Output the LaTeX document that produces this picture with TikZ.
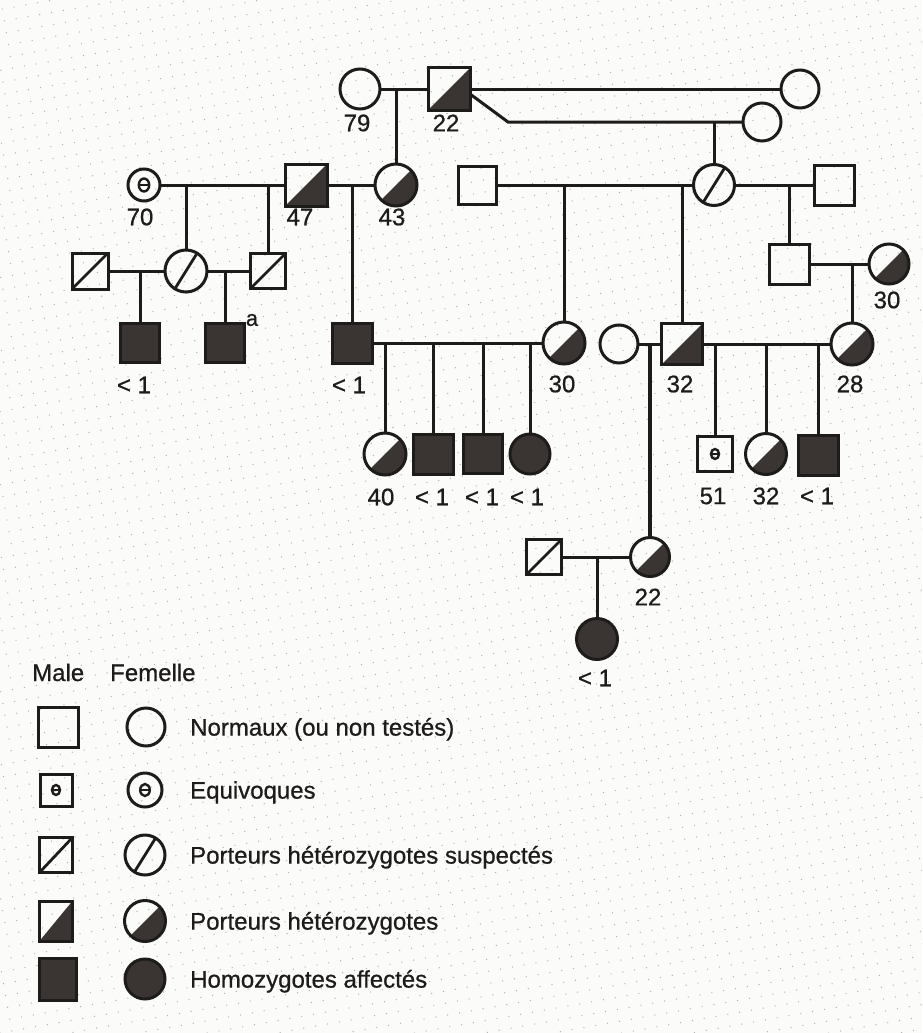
\documentclass[tikz,border=0pt]{standalone}
\usepackage{fontspec}
\setmainfont{Liberation Sans}[FakeBold=0.7]
\usetikzlibrary{patterns.meta}
\definecolor{ink}{HTML}{1E1C1B}
\definecolor{fillc}{HTML}{3A3533}
\definecolor{paper}{HTML}{FBFBFA}
\begin{document}
\begin{tikzpicture}[x=1pt,y=-1pt,
  base/.style={draw=ink, line width=3pt, inner sep=0pt, outer sep=0pt},
  male/.style={base, rectangle, minimum size=#1},
  male/.default=40pt,
  fem/.style={base, circle, minimum size=#1},
  fem/.default=40pt,
  aff/.style={fill=fillc},
  car/.style={path picture={\fill[fillc] (path picture bounding box.south west) -- (path picture bounding box.north east) -- (path picture bounding box.south east) -- cycle;}},
  msus/.style={path picture={\draw[ink,line width=2.8pt] (path picture bounding box.south west) -- (path picture bounding box.north east);}},
  fsus/.style={path picture={\draw[ink,line width=2.8pt] ([shift={(238:30pt)}]path picture bounding box.center) -- ([shift={(58:30pt)}]path picture bounding box.center);}},
  equ/.style={path picture={\draw[ink,line width=2.4pt] (path picture bounding box.center) ellipse [x radius=#1*0.8, y radius=#1];
      \draw[ink,line width=2.2pt] ([xshift=-#1*0.8]path picture bounding box.center) -- ([xshift=#1*0.8]path picture bounding box.center);}},
  equ/.default=6pt,
  lbl/.style={font=\fontsize{24}{28}\selectfont, text=ink, inner sep=0pt},
  leg/.style={lbl, anchor=base west},
  link/.style={draw=ink, line width=3pt},
]
% background
\fill[paper] (0,0) rectangle (922,1033);
\fill[pattern={Dots[distance=12pt, radius=0.7pt, angle=10]}, pattern color=black!30] (0,0) rectangle (922,1033);
\useasboundingbox (0,0) rectangle (922,1033);

% ---------- Generation I ----------
\node[fem=40pt] (I1) at (360,89) {};
\node[male=42pt, car] (I2) at (449,89) {};
\node[fem=38pt] (I3) at (800,89) {};
\node[fem=38pt] (I4) at (762,122) {};
\node[lbl] (t79) at (357,123) {79};
\node[lbl] (t22a) at (446,123) {22};
\coordinate (bend) at (508,122);
\coordinate (cI) at (396,89);
\coordinate (cI2) at (714,122);

% ---------- Generation II ----------
\node[fem=32pt, equ=6.5pt] (II1) at (144,185) {};
\node[male=42pt, car] (II2) at (306,185) {};
\node[fem=42pt, car] (II3) at (396,185) {};
\node[lbl] (t70) at (140,217) {70};
\node[lbl] (t47) at (300,217) {47};
\node[lbl] (t43) at (392,217) {43};
\node[male=38pt] (II4) at (477,185) {};
\node[fem=41pt, fsus] (II5) at (714,185) {};
\node[male=40pt] (II6) at (834,185) {};
\coordinate (cII1) at (186,185);
\coordinate (cII2) at (268,185);
\coordinate (cII3) at (352,185);
\coordinate (cII4) at (564,185);
\coordinate (cII5) at (682,185);
\coordinate (cII6) at (789,185);

% ---------- Generation III ----------
\node[male=36pt, msus] (III1) at (90,271) {};
\node[fem=42pt, fsus] (III2) at (186,271) {};
\node[male=35pt, msus] (III3) at (268,271) {};
\node[male=40pt] (III4) at (789,264) {};
\node[fem=40pt, car] (III5) at (889,264) {};
\node[lbl] (t30r) at (887,300) {30};
\coordinate (cIII1) at (140,271);
\coordinate (cIII2) at (225,271);
\coordinate (cIII3) at (852,264);

% ---------- Generation IV ----------
\node[male=39pt, aff] (IV1) at (140,343) {};
\node[male=39pt, aff] (IV2) at (225,343) {};
\node[male=40pt, aff] (IV3) at (352,343) {};
\node[fem=42pt, car] (IV4) at (564,343) {};
\node[fem=38pt] (IV5) at (619,344) {};
\node[male=41pt, car] (IV6) at (682,344) {};
\node[fem=42pt, car] (IV7) at (852,344) {};
\node[lbl] (tlt1) at (134,385) {< 1};
\node[lbl, font=\fontsize{22}{26}\selectfont] (ta) at (252,320) {a};
\node[lbl] (tlt2) at (349,385) {< 1};
\node[lbl] (t30m) at (562,384) {30};
\node[lbl] (t32a) at (680,384) {32};
\node[lbl] (t28) at (850,384) {28};
\coordinate (cIV1) at (385,343);
\coordinate (cIV2) at (433,343);
\coordinate (cIV3) at (483,343);
\coordinate (cIV4) at (530,343);
\coordinate (cIV5) at (650,344);
\coordinate (cIV6) at (715,344);
\coordinate (cIV7) at (766,344);
\coordinate (cIV8) at (818,344);

% ---------- Generation V ----------
\node[fem=42pt, car] (V1) at (385,454) {};
\node[male=40pt, aff] (V2) at (433,454) {};
\node[male=39pt, aff] (V3) at (483,454) {};
\node[fem=40pt, aff] (V4) at (530,454) {};
\node[male=35pt, equ=5pt] (V5) at (715,454) {};
\node[fem=41pt, car] (V6) at (766,454) {};
\node[male=40pt, aff] (V7) at (818,455) {};
\node[lbl] (t40) at (381,497) {40};
\node[lbl] (tlt3) at (432,497) {< 1};
\node[lbl] (tlt4) at (482,497) {< 1};
\node[lbl] (tlt5) at (527,497) {< 1};
\node[lbl] (t51) at (713,496) {51};
\node[lbl] (t32b) at (766,496) {32};
\node[lbl] (tlt6) at (817,496) {< 1};
\node[male=35pt, msus] (V8) at (544,557) {};
\node[fem=39pt, car] (V9) at (650,557) {};
\node[lbl] (t22b) at (648,597) {22};
\coordinate (cV) at (597,557);

% ---------- Generation VI ----------
\node[fem=41pt, aff] (VI1) at (597,639) {};
\node[lbl] (tlt7) at (595,678) {< 1};

% ---------- connectors ----------
\draw[link] (I1) -- (I2);
\draw[link] (I2) -- (I3);
\draw[link] ([yshift=-5pt]I2.east) -- (bend) -- (I4);
\draw[link] (cI) -- (II3);
\draw[link] (cI2) -- (II5);
\draw[link] (II1) -- (II2);
\draw[link] (II2) -- (II3);
\draw[link] (cII1) -- (III2);
\draw[link] (cII2) -- (III3);
\draw[link] (cII3) -- (IV3);
\draw[link] (II4) -- (II5);
\draw[link] (II5) -- (II6);
\draw[link] (cII4) -- (IV4);
\draw[link] (cII5) -- (IV6);
\draw[link] (cII6) -- (III4);
\draw[link] (III1) -- (III2);
\draw[link] (III2) -- (III3);
\draw[link] (cIII1) -- (IV1);
\draw[link] (cIII2) -- (IV2);
\draw[link] (III4) -- (III5);
\draw[link] (cIII3) -- (IV7);
\draw[link] (IV3) -- (IV4);
\draw[link] (cIV1) -- (V1);
\draw[link] (cIV2) -- (V2);
\draw[link] (cIV3) -- (V3);
\draw[link] (cIV4) -- (V4);
\draw[link] (IV5) -- (IV6);
\draw[link] (IV6) -- (IV7);
\draw[link, line width=3.6pt] (cIV5) -- (V9);
\draw[link] (cIV6) -- (V5);
\draw[link] (cIV7) -- (V6);
\draw[link] (cIV8) -- (V7);
\draw[link] (V8) -- (V9);
\draw[link] (cV) -- (VI1);

% ---------- legend ----------
\node[leg] (hm) at (32,681) {Male};
\node[leg] (hf) at (110,681) {Femelle};
\node[male=40pt] (L1m) at (58,727) {};
\node[fem=38pt] (L1f) at (146,727) {};
\node[leg] (L1t) at (190,735.6) {Normaux (ou non testés)};
\node[male=32pt, equ=5pt] (L2m) at (56,790) {};
\node[fem=34pt, equ=6pt] (L2f) at (145,790) {};
\node[leg] (L2t) at (190,798.6) {Equivoques};
\node[male=33pt, minimum height=35pt, msus] (L3m) at (56,855) {};
\node[fem=40pt, fsus] (L3f) at (145,855) {};
\node[leg] (L3t) at (190,863.6) {Porteurs hétérozygotes suspectés};
\node[male=33pt, minimum height=40pt, car] (L4m) at (56,921) {};
\node[fem=41pt, car] (L4f) at (145,921) {};
\node[leg] (L4t) at (190,929.6) {Porteurs hétérozygotes};
\node[male=37pt, minimum height=42pt, aff] (L5m) at (58,979) {};
\node[fem=40pt, aff] (L5f) at (145,979) {};
\node[leg] (L5t) at (190,987.6) {Homozygotes affectés};
\end{tikzpicture}
\end{document}
